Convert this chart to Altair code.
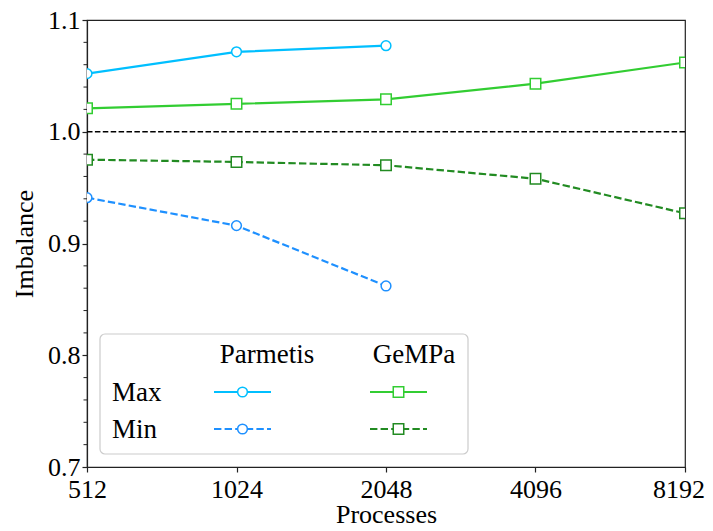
import altair as alt
import pandas as pd

# ---- data ----
procs_parmetis = [512, 1024, 2048]
procs_gempa = [512, 1024, 2048, 4096, 8192]
parmetis_max = [1.052, 1.0715, 1.077]
parmetis_min = [0.941, 0.916, 0.862]
gempa_max = [1.021, 1.025, 1.029, 1.043, 1.062]
gempa_min = [0.975, 0.973, 0.970, 0.958, 0.927]
x_ticks = [512, 1024, 2048, 4096, 8192]
y_ticks = [0.7, 0.8, 0.9, 1.0, 1.1]
y_minor = [0.72, 0.74, 0.76, 0.78, 0.82, 0.84, 0.86, 0.88, 0.92, 0.94, 0.96, 0.98,
           1.02, 1.04, 1.06, 1.08]
ref_level = [1.0]

FONT = "Liberation Serif"
FS = 26
W, H = 598, 447

xscale = alt.Scale(type="log", base=2, domain=[512, 8192], nice=False)
yscale = alt.Scale(domain=[0.7, 1.1], nice=False, zero=False)

xaxis = alt.Axis(values=x_ticks, format="d", title="Processes", grid=False,
                 tickSize=5, labelPadding=4, titleY=55, titleBaseline="alphabetic",
                 labelFlush=True, labelFlushOffset=19.5, labelOverlap=False)
yaxis = alt.Axis(values=y_ticks, format=".1f", title="Imbalance", grid=False,
                 tickSize=5, labelPadding=2, titlePadding=10)


def X(field="p"):
    return alt.X(f"{field}:Q", scale=xscale, axis=xaxis)


def Y(field="v"):
    return alt.Y(f"{field}:Q", scale=yscale, axis=yaxis)


def series(procs, vals, color, dash, shape, size):
    df = pd.DataFrame({"p": procs, "v": vals})
    line_kw = dict(color=color, strokeWidth=2.2, clip=True)
    if dash:
        line_kw["strokeDash"] = [7.4, 3.2]
    line = alt.Chart(df).mark_line(**line_kw).encode(x=X(), y=Y())
    pts = alt.Chart(df).mark_point(shape=shape, size=size, filled=True, fill="white",
                                   stroke=color, strokeWidth=1.5, opacity=1,
                                   clip=True).encode(x=X(), y=Y())
    return [line, pts]


ref = alt.Chart(pd.DataFrame({"v": ref_level})).mark_rule(
    color="black", strokeWidth=1.5, strokeDash=[5.5, 2.4]
).encode(y=Y())

minor = alt.Chart(pd.DataFrame({"v": y_minor})).mark_rule(
    color="#222", strokeWidth=1, clip=False
).encode(y=Y(), x=alt.value(-3.5), x2=alt.value(0))

layers = [ref, minor]
layers += series(procs_gempa, gempa_max, "#32CD32", False, "square", 110)
layers += series(procs_gempa, gempa_min, "#228B22", True, "square", 110)
layers += series(procs_parmetis, parmetis_max, "#00BFFF", False, "circle", 95)
layers += series(procs_parmetis, parmetis_min, "#1E90FF", True, "circle", 95)

# ---- custom table legend ----
dummy = pd.DataFrame({"a": [0]})
box = alt.Chart(dummy).mark_rect(
    fill="white", fillOpacity=0.8, stroke="#cccccc", strokeWidth=1.2, cornerRadius=5
).encode(x=alt.value(13), x2=alt.value(381), y=alt.value(314), y2=alt.value(434))
layers.append(box)


def txt(s, x, y, align, size=FS):
    return alt.Chart(dummy).mark_text(
        text=s, font=FONT, fontSize=size, align=align, baseline="alphabetic", color="black"
    ).encode(x=alt.value(x), y=alt.value(y))


layers += [txt("Parmetis", 180, 343, "center", 27), txt("GeMPa", 327, 343, "center", 27),
           txt("Max", 25, 381, "left", 27), txt("Min", 25, 418, "left", 27)]


def leg(x1, x2, y, color, dash, shape, size):
    kw = dict(color=color, strokeWidth=2.2)
    if dash:
        kw["strokeDash"] = [7.4, 3.2]
    r = alt.Chart(dummy).mark_rule(**kw).encode(
        x=alt.value(x1), x2=alt.value(x2), y=alt.value(y))
    p = alt.Chart(dummy).mark_point(shape=shape, size=size, filled=True, fill="white",
                                    stroke=color, strokeWidth=1.5, opacity=1).encode(
        x=alt.value((x1 + x2) / 2), y=alt.value(y))
    return [r, p]


layers += leg(127, 184, 372, "#00BFFF", False, "circle", 95)
layers += leg(127, 184, 409, "#1E90FF", True, "circle", 95)
layers += leg(283, 340, 372, "#32CD32", False, "square", 110)
layers += leg(283, 340, 409, "#228B22", True, "square", 110)

chart = alt.layer(*layers).properties(
    width=W, height=H,
    autosize=alt.AutoSizeParams(type="none"),
    padding={"left": 79, "top": 12, "right": 20, "bottom": 56},
).configure_view(
    stroke="#222", strokeWidth=1.2
).configure_axis(
    labelFont=FONT, titleFont=FONT, labelFontSize=FS, titleFontSize=FS,
    titleFontWeight="normal", labelColor="black", titleColor="black",
    domainColor="#222", tickColor="#222", domainWidth=1.2, tickWidth=1.2
)

chart.save("out.html", embed_options={"renderer": "svg", "actions": False})
